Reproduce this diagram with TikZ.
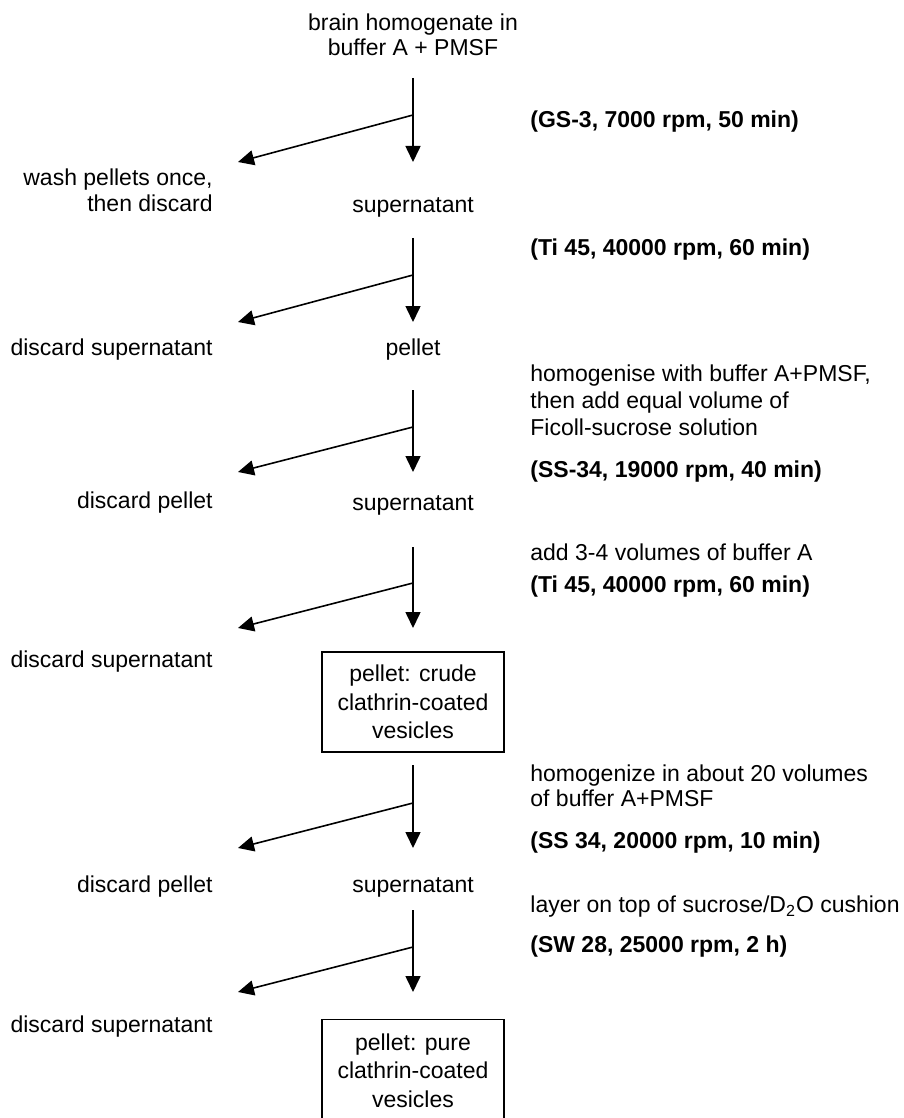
\documentclass[tikz,border=0pt]{standalone}
\usepackage{fontspec}
\setmainfont{Liberation Sans}
\usetikzlibrary{arrows.meta}
\begin{document}
\begin{tikzpicture}[x=0.5pt,y=-0.5pt,
  txt/.style={inner sep=0pt, font=\fontsize{11.5}{13}\selectfont},
  spin/.style={inner sep=0pt, anchor=west, font=\fontsize{11.5}{13}\selectfont\bfseries},
  note/.style={txt, anchor=west, align=left},
  waste/.style={txt, anchor=east, align=right},
  stage/.style={txt, align=center},
  box/.style={draw, line width=0.8pt, minimum width=91pt, minimum height=50pt,
    align=center, inner sep=0pt, font=\fontsize{11.5}{14.25}\selectfont},
  flow/.style={line width=0.8pt, -{Triangle[length=8pt,width=7.5pt]}}
]
\useasboundingbox (0,0) rectangle (904,1118);

% main column
\node[stage, font=\fontsize{11.5}{12.5}\selectfont] (start) at (413,34.5) {brain homogenate in\\buffer A + PMSF};
\node[stage] (sup1) at (413,207) {supernatant};
\node[stage] (pel1) at (413,350) {pellet};
\node[stage] (sup2) at (413,505) {supernatant};
\node[box] (crude) at (413,702) {pellet: crude\\clathrin-coated\\vesicles};
\node[stage] (sup3) at (413,887) {supernatant};
\node[box, minimum height=51pt] (pure) at (413,1070.5) {pellet: pure\\clathrin-coated\\vesicles};

% discarded fractions
\node[waste, font=\fontsize{11.5}{13}\selectfont] (w1) at (213,190) {wash pellets once,\\then discard};
\node[waste] (w2) at (213,350) {discard supernatant};
\node[waste] (w3) at (213,503) {discard pellet};
\node[waste] (w4) at (213,662) {discard supernatant};
\node[waste] (w5) at (213,887) {discard pellet};
\node[waste] (w6) at (213,1027) {discard supernatant};

% run conditions and treatments
\node[spin] (r1) at (530,122) {(GS-3, 7000 rpm, 50 min)};
\node[spin] (r2) at (530,250) {(Ti 45, 40000 rpm, 60 min)};
\node[note, font=\fontsize{11.5}{13.6}\selectfont] (n3) at (530,400) {homogenise with buffer A+PMSF,\\then add equal volume of\\Ficoll-sucrose solution};
\node[spin] (r3) at (530,472) {(SS-34, 19000 rpm, 40 min)};
\node[note] (n4) at (530,552) {add 3-4 volumes of buffer A};
\node[spin] (r4) at (530,587) {(Ti 45, 40000 rpm, 60 min)};
\node[note, font=\fontsize{11.5}{12.5}\selectfont] (n5) at (530,785.5) {homogenize in about 20 volumes\\of buffer A+PMSF};
\node[spin] (r5) at (530,843) {(SS 34, 20000 rpm, 10 min)};
\node[note] (n6) at (530,907) {layer on top of sucrose/D\textsubscript{2}O cushion};
\node[spin] (r6) at (530,947) {(SW 28, 25000 rpm, 2 h)};

% arrow ends: top, branch point, lower tip, side tip
\foreach \i/\t/\b/\e in {1/78/115/162, 2/238/275/322, 3/390/427/472,
                         4/547/583/628, 5/765/803/848, 6/910/947/992} {
  \coordinate (top\i) at (413,\t);
  \coordinate (br\i) at (413,\b);
  \coordinate (dn\i) at (413,\e);
  \coordinate (sd\i) at (238,\e);
  \draw[flow] (top\i) -- (dn\i);
  \draw[flow] (br\i) -- (sd\i);
}
\end{tikzpicture}
\end{document}
